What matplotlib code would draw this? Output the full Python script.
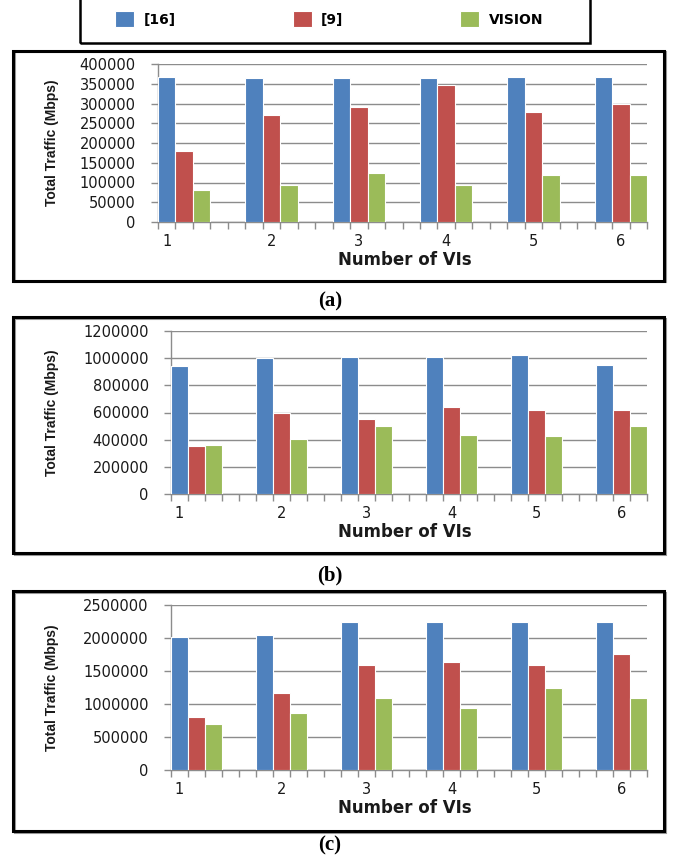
import numpy as np
import matplotlib
matplotlib.use("Agg")
import matplotlib.pyplot as plt
from matplotlib.patches import Rectangle

# data
vis = ["1", "2", "3", "4", "5", "6"]
series = ["[16]", "[9]", "VISION"]
colors = ["#4F81BD", "#C0504D", "#9BBB59"]

ref16_a = [366000, 365000, 365000, 365000, 367000, 367000]
ref9_a = [181000, 272000, 292000, 347000, 278000, 300000]
vision_a = [81000, 94000, 125000, 94000, 119000, 119000]

ref16_b = [945000, 1000000, 1006000, 1006000, 1020000, 947000]
ref9_b = [352000, 598000, 553000, 637000, 615000, 622000]
vision_b = [359000, 408000, 497000, 438000, 430000, 497000]

ref16_c = [2014000, 2045000, 2247000, 2247000, 2247000, 2247000]
ref9_c = [810000, 1164000, 1594000, 1630000, 1594000, 1756000]
vision_c = [698000, 860000, 1088000, 936000, 1240000, 1098000]

yticks_a = np.arange(0, 400001, 50000)
yticks_b = np.arange(0, 1200001, 200000)
yticks_c = np.arange(0, 2500001, 500000)

panels = [
    ([ref16_a, ref9_a, vision_a], yticks_a, "(a)"),
    ([ref16_b, ref9_b, vision_b], yticks_b, "(b)"),
    ([ref16_c, ref9_c, vision_c], yticks_c, "(c)"),
]

W, H = 680, 866
fig = plt.figure(figsize=(W / 100, H / 100), dpi=100)

# pixel layout: plot area (left, right, top, bottom), box (left, right, top, bottom), caption y
plot_px = [(158, 647, 64, 222), (171, 647, 331, 494), (171, 647, 605, 770)]
box_px = [(13, 664, 51, 281), (13, 664, 317, 553), (13, 664, 591, 831)]
cap_y = [301, 575, 845]

n_cat = 28  # excel-style category axis: 3 bars + 2 gaps per group
label_pos = [0.5, 6.5, 11.5, 16.5, 21.5, 26.5]
grid_col = "#8C8C8C"


def fx(px):
    return px / W


def fy(py):
    return 1 - py / H


handles = None
for (vals, yticks, cap), (l, r, t, b), (bl, br, bt, bb), cy in zip(panels, plot_px, box_px, cap_y):
    # outer box
    fig.patches.append(Rectangle((fx(bl + 1.5), fy(bb + 1.5)), fx(br - bl), (bb - bt) / H,
                                 transform=fig.transFigure, fill=False, ec="#9a9a9a", lw=1.5))
    fig.patches.append(Rectangle((fx(bl), fy(bb)), fx(br - bl), (bb - bt) / H,
                                 transform=fig.transFigure, fill=False, ec="black", lw=2.2))

    ax = fig.add_axes([fx(l), fy(b), fx(r - l), (b - t) / H])
    bars = []
    for k, (v, c) in enumerate(zip(vals, colors)):
        x = np.arange(len(v)) * 5 + k + 0.5
        bars.append(ax.bar(x, v, width=1.0, color=c, edgecolor="white", linewidth=0.8,
                           zorder=3, label=series[k]))
    if handles is None:
        handles = bars

    ax.set_xlim(0, n_cat)
    ax.set_ylim(0, yticks[-1])
    ax.set_yticks(yticks)
    ax.set_yticklabels([str(v) for v in yticks], fontsize=10.5, family="DejaVu Sans", color="#1a1a1a")
    ax.yaxis.grid(True, color=grid_col, lw=1, zorder=0)
    ax.set_axisbelow(True)

    ax.set_xticks(np.arange(n_cat + 1))
    ax.set_xticklabels([])
    ax.set_xticks(label_pos, vis, minor=True)
    ax.tick_params(axis="x", which="major", length=5, color=grid_col, width=1)
    ax.tick_params(axis="x", which="minor", length=0, pad=9, labelsize=10.5, labelcolor="#1a1a1a")
    ax.tick_params(axis="y", length=5, color=grid_col, width=1, pad=11)

    for s in ["top", "right"]:
        ax.spines[s].set_visible(False)
    for s in ["left", "bottom"]:
        ax.spines[s].set_color(grid_col)
        ax.spines[s].set_linewidth(1)

    fig.text(fx(52), fy((t + b) / 2), "Total Traffic (Mbps)", rotation=90, ha="center",
             va="center", fontsize=10, fontweight="bold", family="Liberation Sans", color="#1a1a1a")
    fig.text(fx(405), fy(b + 38), "Number of VIs", ha="center", va="center",
             fontsize=12, fontweight="bold", family="DejaVu Sans", color="#1a1a1a")
    fig.text(fx(330), fy(cy), cap, ha="center", va="center", fontsize=15,
             fontweight="bold", family="Liberation Serif")

# legend box at the top
fig.patches.append(Rectangle((fx(80), fy(43)), fx(510), 50 / H, transform=fig.transFigure,
                             fill=False, ec="black", lw=1.8))
fig.legend(handles, series, loc="center left", bbox_to_anchor=(fx(103), fy(19)),
           ncol=3, frameon=False, prop={"weight": "bold", "size": 10},
           handlelength=1.35, handleheight=1.3, handletextpad=0.7, columnspacing=8.4)

fig.savefig("out.png", dpi=100)
